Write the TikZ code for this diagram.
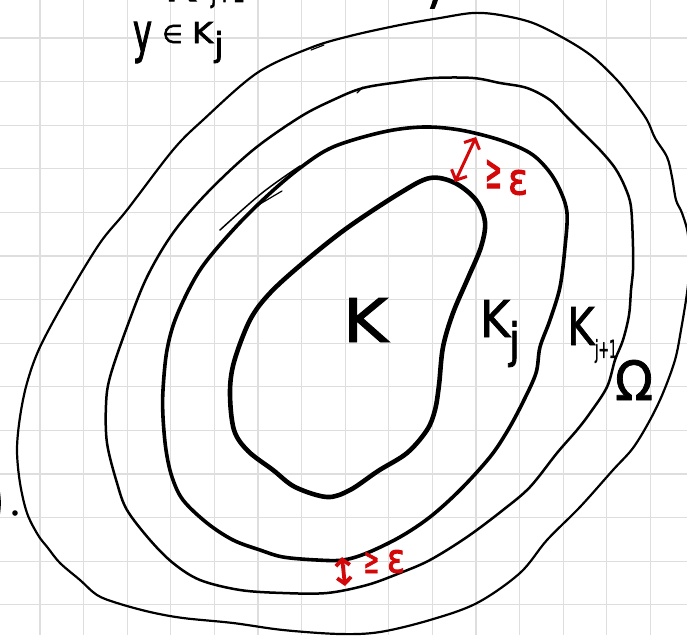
\documentclass[tikz,border=0pt]{standalone}
\usepackage{fontspec}
\setmainfont{DejaVu Sans}
\newfontfamily\handfont[FakeBold=1.6]{DejaVu Sans}
\newfontfamily\handboldfont[FakeBold=2.4]{DejaVu Sans}
\usepackage{graphicx}
\usetikzlibrary{arrows.meta}
\definecolor{gridc}{RGB}{222,222,222}
\definecolor{redink}{RGB}{212,8,8}
\tikzset{
 gridline/.style={gridc, line width=1.3pt},
 kline/.style={line width=4.6pt, line join=round},
 kjline/.style={line width=3.6pt, line join=round},
 kjoneline/.style={line width=2.5pt, line join=round},
 omline/.style={line width=2.2pt, line join=round},
 sketch/.style={line width=1.5pt, line cap=round},
 lab/.style={inner sep=0pt, outer sep=0pt, font=\handfont},
 smalllab/.style={inner sep=0pt, outer sep=0pt, font=\handboldfont},
 redlab/.style={smalllab, text=redink},
 dist/.style={redink, line width=3pt, line cap=round, {Straight Barb[length=8pt,width=17pt]}-{Straight Barb[length=8pt,width=17pt]}},
 distsmall/.style={redink, line width=3.8pt, line cap=round, {Straight Barb[length=6pt,width=14pt]}-{Straight Barb[length=6pt,width=14pt]}},
}
\newcommand{\fitbox}[3]{\resizebox*{#1pt}{#2pt}{#3}}
\begin{document}
\begin{tikzpicture}[x=1pt,y=-1pt]
\useasboundingbox (0,0) rectangle (687,635);
\fill[white] (0,0) rectangle (687,635);
\begin{scope}
\clip (0,0) rectangle (687,635);
% grid paper
\foreach \i in {0,...,14} \draw[gridline] ({40+43.6*\i},0) -- ({40+43.6*\i},635);
\foreach \i in {0,...,13} \draw[gridline] (0,{38+43.6*\i}) -- (687,{38+43.6*\i});

% K (innermost)
\draw[kline] plot[smooth cycle, tension=0.55] coordinates {
(430,178) (455,183) (476,200) (485,222) (481,247) (468,278) (453,313) (443,347)
(439,385) (435,410) (427,430) (407,453) (378,471) (350,490) (327,497) (295,487)
(273,470) (248,451) (234,430) (230,393) (234,362) (250,320) (270,293) (303,263)
(347,228) (400,193)};

% K_j
\draw[kjline] plot[smooth cycle, tension=0.55] coordinates {
(423,127) (460,130) (500,140) (530,153) (548,170) (560,190) (567,213) (565,247)
(560,287) (550,320) (540,347) (536,373) (523,402) (508,430) (490,457) (460,490)
(430,517) (400,537) (367,553) (343,560) (317,560) (283,557) (260,550) (233,540)
(207,523) (183,500) (172,477) (166,450) (163,417) (163,390) (167,350) (177,315)
(200,270) (233,230) (267,196) (300,168) (333,147) (383,132)};

% K_{j+1}
\draw[kjoneline] plot[smooth cycle, tension=0.55] coordinates {
(433,78) (473,78) (500,83) (527,88) (550,100) (567,117) (583,133) (600,150)
(615,168) (625,187) (631,207) (633,247) (633,270) (631,290) (629,315) (623,340)
(615,360) (607,387) (590,413) (577,430) (557,453) (530,487) (503,510) (467,537)
(430,560) (400,573) (367,585) (327,593) (283,593) (240,590) (200,580) (173,563)
(150,540) (127,510) (117,483) (107,443) (106,405) (110,377) (127,327) (147,277)
(173,233) (207,193) (253,150) (300,117) (333,100) (363,88) (400,82)};

% Omega
\draw[omline] plot[smooth cycle, tension=0.55] coordinates {
(473,13) (500,15) (533,23) (567,40) (593,57) (617,80) (633,100) (647,120)
(655,138) (667,157) (672,177) (676,200) (682,213) (688,235) (689,270) (687,293)
(681,330) (675,360) (663,393) (650,420) (633,448) (613,470) (580,507) (547,540)
(520,573) (477,603) (430,620) (380,632) (340,634) (283,630) (233,623) (183,618)
(150,612) (117,603) (97,595) (80,580) (60,563) (48,548) (38,535) (27,513)
(20,483) (17,450) (20,417) (27,383) (40,347) (67,297) (100,243) (127,210)
(173,150) (203,120) (257,73) (310,48) (350,36) (400,25) (440,18)};

% sketchy extra strokes
\draw[sketch] plot[smooth, tension=0.6] coordinates {(300,166) (262,193) (220,230)};
\draw[sketch, line width=1.2pt] (282,191) -- (260,204);
\draw[sketch, line width=1.2pt] (363,87) -- (357,93);
\draw[sketch, line width=1.2pt] (311,50) -- (324,45);

% fragments at the edges
\node[smalllab] (topparen) at (436,-22) {\fitbox{18}{60}{)}};
\node[smalllab] (leftparen) at (-6,503) {\fitbox{22}{70}{)}};
\fill (15,513) circle (2.8pt);
\node[smalllab] (topK) at (180,-18) {\fitbox{30}{38}{K}};
\node[smalllab] (topsub) at (228,-6) {\fitbox{34}{28}{j+1}};

% distance arrows
\coordinate (a1) at (455,182);
\coordinate (a2) at (476,137);
\draw[dist] (a1) -- (a2);
\coordinate (b1) at (342,557);
\coordinate (b2) at (345,586);
\draw[distsmall] (b1) -- (b2);
\end{scope}

% labels
\node[lab] (lK) at (365.5,320) {\fitbox{45}{44}{K}};
\node[lab] (lKj) at (495,318.5) {\fitbox{30}{37}{K}};
\node[lab] (lKjs) at (514.5,344) {\fitbox{11}{46}{j}};
\node[lab] (lKk) at (581,326) {\fitbox{27}{38}{K}};
\node[lab] (lKks) at (606,351) {\fitbox{22}{24}{j+1}};
\node[lab] (lOm) at (634,380) {\fitbox{38}{40}{Ω}};
\node[smalllab] (ty) at (142.5,42.5) {\fitbox{19}{41}{y}};
\node[smalllab] (tin) at (172.5,34) {\fitbox{20}{18}{∈}};
\node[smalllab] (tK) at (202.5,32.5) {\fitbox{21}{21}{K}};
\node[smalllab] (tj) at (219,47) {\fitbox{9}{32}{j}};
\node[redlab] (ge1) at (493.5,174) {\fitbox{17}{28}{≥}};
\node[redlab] (ep1) at (518,182.5) {\fitbox{20}{25}{ε}};
\node[redlab] (ge2) at (371.5,562.5) {\fitbox{16}{21}{≥}};
\node[redlab] (ep2) at (396,561.5) {\fitbox{18}{23}{ε}};
\end{tikzpicture}
\end{document}
